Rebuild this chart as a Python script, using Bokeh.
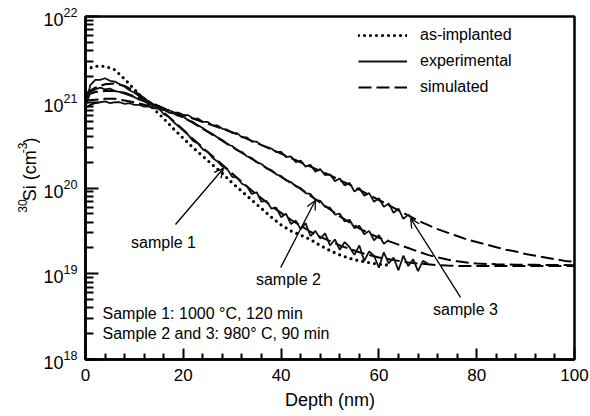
import math
from bokeh.plotting import figure
from bokeh.layouts import row
from bokeh.models import (Range1d, FixedTicker, Label, Arrow, OpenHead, Legend, LegendItem)
from bokeh.core.properties import value
from bokeh.embed import file_html
from bokeh.resources import INLINE

# ---------------- data (log10 of 30Si concentration, cm^-3) ----------------
depth_exp1 = list(range(0, 71))
exp1_log = [20.98, 21.20, 21.26, 21.26, 21.28, 21.25, 21.24, 21.21, 21.18, 21.14,
            21.11, 21.07, 21.04, 21.01, 20.96, 20.93, 20.86, 20.83, 20.77, 20.72,
            20.67, 20.62, 20.55, 20.52, 20.45, 20.42, 20.35, 20.31, 20.25, 20.22,
            20.13, 20.12, 20.05, 20.02, 19.93, 19.95, 19.84, 19.85, 19.76, 19.77,
            19.66, 19.70, 19.58, 19.62, 19.52, 19.59, 19.44, 19.50, 19.41, 19.47,
            19.33, 19.40, 19.28, 19.37, 19.31, 19.22, 19.33, 19.15, 19.26, 19.21,
            19.07, 19.25, 19.12, 19.19, 19.04, 19.21, 19.09, 19.17, 19.03, 19.15, 19.12]

depth_exp2 = list(range(0, 63))
exp2_log = [20.95, 21.12, 21.15, 21.17, 21.15, 21.16, 21.13, 21.12, 21.10, 21.08,
            21.06, 21.03, 21.01, 20.98, 20.96, 20.93, 20.92, 20.88, 20.87, 20.84,
            20.83, 20.79, 20.77, 20.73, 20.70, 20.66, 20.63, 20.59, 20.56, 20.51,
            20.49, 20.44, 20.42, 20.37, 20.35, 20.30, 20.28, 20.23, 20.21, 20.16,
            20.14, 20.09, 20.07, 20.02, 20.00, 19.94, 19.93, 19.86, 19.85, 19.78,
            19.77, 19.69, 19.70, 19.61, 19.63, 19.53, 19.56, 19.46, 19.50, 19.39,
            19.45, 19.35, 19.39]

depth_exp3 = list(range(0, 68))
exp3_log = [20.93, 20.97, 20.99, 21.00, 21.01, 20.99, 21.00, 21.00, 20.98, 20.99,
            20.97, 20.97, 20.95, 20.95, 20.93, 20.93, 20.91, 20.91, 20.88, 20.88,
            20.85, 20.85, 20.81, 20.81, 20.77, 20.77, 20.73, 20.73, 20.69, 20.68,
            20.64, 20.64, 20.59, 20.59, 20.54, 20.54, 20.50, 20.48, 20.46, 20.42,
            20.42, 20.36, 20.37, 20.30, 20.32, 20.25, 20.27, 20.19, 20.22, 20.15,
            20.16, 20.08, 20.11, 20.03, 20.06, 19.96, 20.00, 19.91, 19.94, 19.84,
            19.88, 19.78, 19.82, 19.71, 19.76, 19.64, 19.69, 19.63]

depth_ai = [0, 2, 4, 6, 8, 10, 12, 14, 16, 18, 20, 22, 24, 26, 28, 30,
            32, 34, 36, 38, 40, 42, 44, 46, 48, 50, 52, 54, 56, 58, 60, 62]
as_implanted_log = [21.38, 21.42, 21.42, 21.38, 21.27, 21.15, 21.03, 20.92, 20.81, 20.69,
                    20.58, 20.47, 20.37, 20.27, 20.17, 20.06, 19.96, 19.86, 19.76, 19.66,
                    19.57, 19.50, 19.45, 19.40, 19.33, 19.27, 19.22, 19.18, 19.15, 19.13,
                    19.11, 19.10]

depth_sim = list(range(0, 101, 2))
sim1_log = [21.10, 21.17, 21.21, 21.22, 21.19, 21.13, 21.05, 20.97, 20.88, 20.78,
            20.68, 20.57, 20.47, 20.37, 20.27, 20.17, 20.07, 19.97, 19.88, 19.79,
            19.71, 19.63, 19.56, 19.49, 19.43, 19.38, 19.33, 19.29, 19.25, 19.22,
            19.19, 19.17, 19.15, 19.13, 19.12, 19.11, 19.10, 19.095, 19.092, 19.09,
            19.09, 19.09, 19.09, 19.09, 19.09, 19.09, 19.09, 19.09, 19.09, 19.09, 19.09]
sim2_log = [21.08, 21.12, 21.13, 21.13, 21.11, 21.07, 21.03, 20.98, 20.93, 20.88,
            20.82, 20.76, 20.69, 20.62, 20.55, 20.48, 20.41, 20.34, 20.27, 20.20,
            20.13, 20.06, 19.99, 19.91, 19.83, 19.75, 19.67, 19.60, 19.53, 19.47,
            19.42, 19.38, 19.34, 19.30, 19.26, 19.22, 19.19, 19.165, 19.145, 19.13,
            19.12, 19.115, 19.11, 19.108, 19.106, 19.105, 19.104, 19.103, 19.102, 19.101, 19.10]
sim3_log = [21.02, 21.03, 21.04, 21.04, 21.02, 21.00, 20.97, 20.94, 20.91, 20.88,
            20.85, 20.81, 20.77, 20.73, 20.69, 20.65, 20.60, 20.55, 20.50, 20.45,
            20.40, 20.35, 20.30, 20.25, 20.20, 20.15, 20.09, 20.04, 19.98, 19.92,
            19.86, 19.80, 19.74, 19.68, 19.62, 19.57, 19.52, 19.48, 19.44, 19.40,
            19.37, 19.34, 19.31, 19.28, 19.26, 19.23, 19.21, 19.19, 19.17, 19.15, 19.14]

x_major_ticks = [0, 20, 40, 60, 80, 100]
x_minor_ticks = [4, 8, 12, 16, 24, 28, 32, 36, 44, 48, 52, 56, 64, 68, 72, 76, 84, 88, 92, 96]
y_decades = [18, 19, 20, 21, 22]
x_title = "Depth (nm)"
y_title_parts = ["30", "Si (cm", "-3", ")"]
legend_labels = ["as-implanted", "experimental", "simulated"]
sample_labels = ["sample 1", "sample 2", "sample 3"]
conditions = ["Sample 1: 1000 \u00b0C, 120 min", "Sample 2 and 3: 980\u00b0 C, 90 min"]


def conc(logs):
    return [10.0 ** v for v in logs]


FONT = "Liberation Sans"
LW = 40           # width of the strip that carries the rotated y title
W, H = 590 - LW, 416

p = figure(width=W, height=H, output_backend="svg", toolbar_location=None, title=None,
           x_range=Range1d(0, 100), y_range=Range1d(1e18, 1e22), y_axis_type="log",
           min_border_left=85 - LW, min_border_right=16, min_border_top=16, min_border_bottom=57)
p.grid.visible = False
p.outline_line_color = "black"
p.outline_line_width = 2.5
p.background_fill_color = "white"
p.border_fill_color = "white"

xa = p.xaxis[0]
xa.ticker = FixedTicker(ticks=x_major_ticks, minor_ticks=x_minor_ticks)
xa.major_tick_in = 11
xa.major_tick_out = 0
xa.minor_tick_in = 6
xa.minor_tick_out = 0
xa.axis_line_width = 2.5
xa.major_tick_line_width = 2
xa.minor_tick_line_width = 2
xa.major_label_text_font = FONT
xa.major_label_text_font_size = "17px"
xa.major_label_text_color = "black"
xa.major_label_standoff = 9
xa.axis_label = x_title
xa.axis_label_text_font = FONT
xa.axis_label_text_font_size = "18px"
xa.axis_label_text_font_style = "normal"
xa.axis_label_text_color = "black"
xa.axis_label_standoff = 6

ya = p.yaxis[0]
y_major = [10.0 ** d for d in y_decades]
y_minor = [m * 10.0 ** d for d in y_decades[:-1] for m in range(2, 10)]
ya.ticker = FixedTicker(ticks=y_major, minor_ticks=y_minor)
ya.major_tick_in = 13
ya.major_tick_out = 0
ya.minor_tick_in = 8
ya.minor_tick_out = 0
ya.axis_line_width = 2.5
ya.major_tick_line_width = 2
ya.minor_tick_line_width = 2
ya.major_label_text_font = FONT
ya.major_label_text_font_size = "18px"
ya.major_label_text_color = "black"
ya.major_label_standoff = 8

# ---------------- curves ----------------
DASH = "13 5"
r_s1 = p.line(depth_sim, conc(sim1_log), line_color="black", line_width=2, line_dash=DASH)
r_s2 = p.line(depth_sim, conc(sim2_log), line_color="black", line_width=2, line_dash=DASH)
r_s3 = p.line(depth_sim, conc(sim3_log), line_color="black", line_width=2, line_dash=DASH)
r_ai = p.line(depth_ai, conc(as_implanted_log), line_color="black", line_width=3.2,
              line_dash="0 6", line_cap="round")
r_e1 = p.line(depth_exp1, conc(exp1_log), line_color="#111111", line_width=1.8)
r_e2 = p.line(depth_exp2, conc(exp2_log), line_color="#111111", line_width=1.8)
r_e3 = p.line(depth_exp3, conc(exp3_log), line_color="#111111", line_width=1.8)

legend = Legend(items=[LegendItem(label=value(legend_labels[0]), renderers=[r_ai]),
                       LegendItem(label=value(legend_labels[1]), renderers=[r_e1]),
                       LegendItem(label=value(legend_labels[2]), renderers=[r_s1])],
                location=(273, 262), padding=0, margin=0, spacing=6,
                glyph_width=49, glyph_height=20, label_height=20, label_standoff=13,
                label_text_font=FONT, label_text_font_size="16px", label_text_color="black",
                border_line_alpha=0, background_fill_alpha=0)
p.add_layout(legend)

# ---------------- annotations ----------------
arrows = [((18.4, 3.75e19), (28.2, 1.69e20)),
          ((39.9, 1.18e19), (47.0, 7.15e19)),
          ((76.7, 5.3e18), (66.5, 4.4e19))]
for (xs, ys), (xe, ye) in arrows:
    p.add_layout(Arrow(x_start=xs, y_start=ys, x_end=xe, y_end=ye, line_width=1.3,
                       line_color="black",
                       end=OpenHead(size=9, line_width=1.3, line_color="black")))

label_pos = [(15.95, 2.31e19), (41.5, 8.57e18), (77.7, 3.83e18)]
for txt, (lx, ly) in zip(sample_labels, label_pos):
    p.add_layout(Label(x=lx, y=ly, text=txt, text_align="center", text_baseline="middle",
                       text_font=FONT, text_font_size="16px", text_color="black"))

for txt, ly in zip(conditions, [3.44e18, 2.01e18]):
    p.add_layout(Label(x=3.48, y=ly, text=txt, text_align="left", text_baseline="middle",
                       text_font=FONT, text_font_size="16px", text_color="black"))

# ---------------- rotated y title "30Si (cm-3)" in a narrow strip ----------------
t = figure(width=LW, height=H, output_backend="svg", toolbar_location=None, title=None,
           x_range=Range1d(0, LW), y_range=Range1d(H, 0), x_axis_type=None, y_axis_type=None,
           min_border=0, min_border_left=0, min_border_right=0, min_border_top=0,
           min_border_bottom=0)
t.grid.visible = False
t.outline_line_color = None
t.background_fill_color = "white"
t.border_fill_color = "white"
rot = math.pi / 2
title_layout = [(22, 238, "12px"), (29, 224, "18px"), (22, 166, "12px"), (29, 154, "18px")]
for txt, (px, py, fs) in zip(y_title_parts, title_layout):
    t.add_layout(Label(x=px, y=py, text=txt, angle=rot, text_align="left",
                       text_baseline="middle", text_font=FONT, text_font_size=fs,
                       text_color="black"))

layout = row(t, p, spacing=0)
open("out.html", "w").write(file_html(layout, INLINE))
